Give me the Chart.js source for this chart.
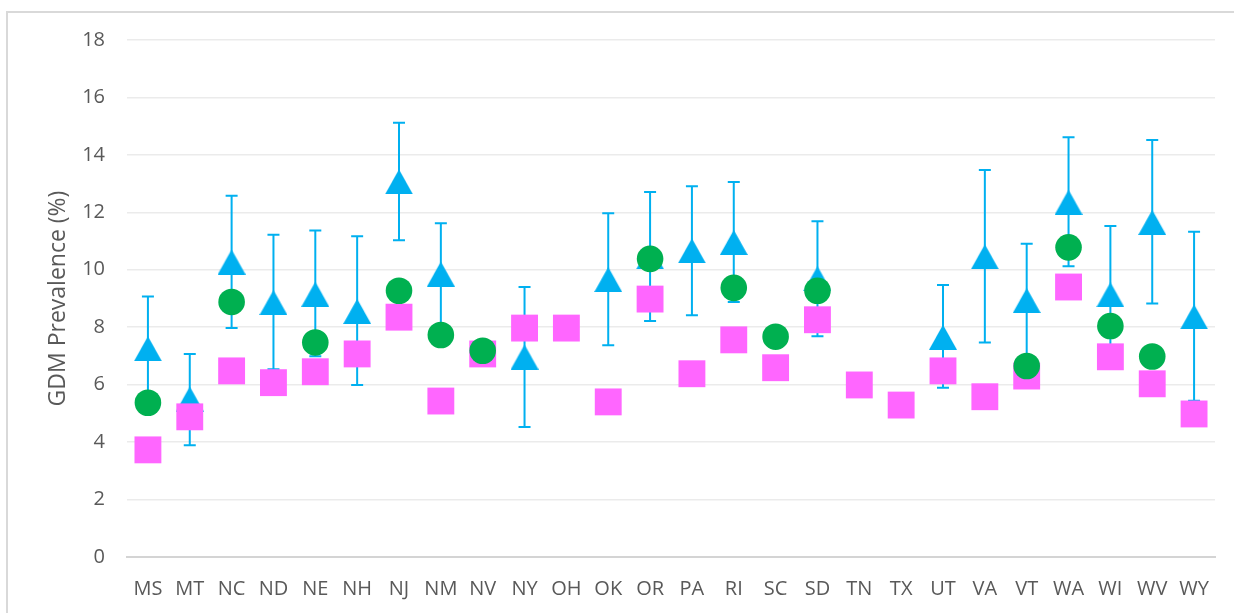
<!DOCTYPE html>
<html>
<head>
<meta charset="utf-8">
<script src="https://cdn.jsdelivr.net/npm/chart.js@4/dist/chart.umd.min.js"></script>
<style>
  html, body { margin: 0; padding: 0; background: #fff; overflow: hidden; }
  #frame { position: absolute; left: 6px; top: 11px; width: 1300px; height: 700px; border: 2px solid #d9d9d9; }
  #wrap { position: absolute; left: 0; top: 0; width: 1234px; height: 613px; }
</style>
</head>
<body>
<div id="frame"></div>
<div id="wrap"><canvas id="myChart" width="1234" height="613"></canvas></div>
<script>
const states = ['MS','MT','NC','ND','NE','NH','NJ','NM','NV','NY','OH','OK','OR','PA','RI','SC','SD','TN','TX','UT','VA','VT','WA','WI','WV','WY']

// blue triangles + their error bars
const triVals = [7.25, 5.5, 10.27, 8.86, 9.15, 8.55, 13.06, 9.85, null, 6.96, null, 9.66, 10.45, 10.66, 10.95, null, 9.69, null, null, 7.65, 10.45, 8.93, 12.35, 9.13, 11.65, 8.36]
const errHigh = [9.07, 7.07, 12.58, 11.22, 11.37, 11.17, 15.12, 11.62, null, 9.40, null, 11.97, 12.71, 12.91, 13.06, null, 11.69, null, null, 9.47, 13.47, 10.91, 14.61, 11.52, 14.52, 11.32]
const errLow = [5.43, 3.89, 7.97, 6.54, 6.99, 5.99, 11.03, 8.08, null, 4.53, null, 7.37, 8.22, 8.42, 8.88, null, 7.69, null, null, 5.89, 7.47, 6.95, 10.12, 6.74, 8.83, 5.44]

// green circles
const circVals = [5.37, null, 8.88, null, 7.47, null, 9.27, 7.73, 7.18, null, null, null, 10.38, null, 9.37, 7.67, 9.27, null, null, null, null, 6.65, 10.78, 8.04, 6.98, null]

// pink squares
const sqVals = [3.73, 4.88, 6.48, 6.07, 6.45, 7.07, 8.35, 5.43, 7.07, 7.97, 7.97, 5.40, 8.98, 6.38, 7.56, 6.59, 8.26, 5.99, 5.29, 6.48, 5.58, 6.30, 9.40, 6.97, 6.03, 4.98]

const yTicks = [0, 2, 4, 6, 8, 10, 12, 14, 16, 18]

const blue = '#00B0F0'
const green = '#00B050'
const pink = '#FF66FF'

// triangle marker centred on its bounding box (like Excel)
const triImg = document.createElement('canvas')
triImg.width = 28
triImg.height = 25
const tctx = triImg.getContext('2d')
tctx.fillStyle = blue
tctx.beginPath()
tctx.moveTo(14, 0)
tctx.lineTo(28, 25)
tctx.lineTo(0, 25)
tctx.closePath()
tctx.fill()

const errorBars = {
  id: 'errorBars',
  beforeDatasetsDraw(chart) {
    const { ctx, scales: { x, y } } = chart
    ctx.save()
    ctx.strokeStyle = blue
    ctx.lineWidth = 2
    states.forEach((s, i) => {
      if (errHigh[i] == null) return
      const px = x.getPixelForValue(i)
      const top = y.getPixelForValue(errHigh[i])
      const bot = y.getPixelForValue(errLow[i])
      ctx.beginPath()
      ctx.moveTo(px, top)
      ctx.lineTo(px, bot)
      ctx.moveTo(px - 6, top)
      ctx.lineTo(px + 6, top)
      ctx.moveTo(px - 6, bot)
      ctx.lineTo(px + 6, bot)
      ctx.stroke()
    })
    ctx.restore()
  }
}

const font = { family: "'Open Sans', sans-serif", size: 20 }

new Chart(document.querySelector('#myChart'), {
  type: 'line',
  data: {
    labels: states,
    datasets: [
      { label: 'circles', data: circVals, showLine: false, pointStyle: 'circle', pointRadius: 13.3, backgroundColor: green, borderWidth: 0, pointBorderWidth: 0 },
      { label: 'squares', data: sqVals, showLine: false, pointStyle: 'rect', pointRadius: 19, backgroundColor: pink, borderWidth: 0, pointBorderWidth: 0 },
      { label: 'triangles', data: triVals, showLine: false, pointStyle: triImg, pointRadius: 14, backgroundColor: blue, borderWidth: 0 }
    ]
  },
  options: {
    responsive: false,
    animation: false,
    events: [],
    layout: { padding: { top: 40, right: 16, bottom: 0, left: 0 } },
    plugins: { legend: { display: false }, tooltip: { enabled: false } },
    scales: {
      x: {
        offset: true,
        grid: { display: false, drawTicks: false },
        border: { display: true, color: '#d4d4d4', width: 2 },
        ticks: { color: '#595959', font, padding: 20, maxRotation: 0, autoSkip: false },
        afterFit: (scale) => { scale.height = 56 }
      },
      y: {
        min: 0,
        max: 18,
        afterBuildTicks: (scale) => { scale.ticks = yTicks.map(v => ({ value: v })) },
        grid: { color: '#ebebeb', lineWidth: 1.5, drawTicks: false },
        border: { display: false },
        ticks: { color: '#595959', font, padding: 22 },
        title: { display: true, text: 'GDM Prevalence (%)', color: '#595959', font: { family: "'Open Sans', sans-serif", size: 23 }, padding: { top: 45, bottom: 0 } },
        afterFit: (scale) => { scale.width = 127 }
      }
    }
  },
  plugins: [errorBars]
})
</script>
</body>
</html>
